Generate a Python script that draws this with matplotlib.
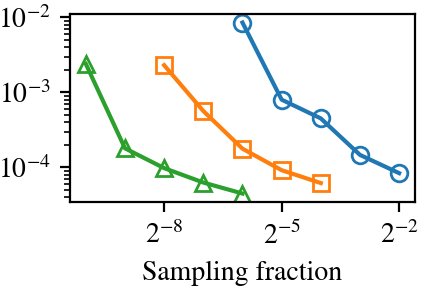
import numpy as np
import matplotlib
matplotlib.use("Agg")
import matplotlib.pyplot as plt
from matplotlib.ticker import NullLocator

plt.rcParams['font.family'] = 'serif'
plt.rcParams['font.serif'] = ['STIXGeneral', 'Liberation Serif', 'DejaVu Serif']
plt.rcParams['mathtext.fontset'] = 'stix'
plt.rcParams['font.size'] = 10

# sampling fractions as powers of two
exp_blue = [-6, -5, -4, -3, -2]
err_blue = [8.5e-3, 8.0e-4, 4.5e-4, 1.47e-4, 8.4e-5]

exp_orange = [-8, -7, -6, -5, -4]
err_orange = [2.3e-3, 5.65e-4, 1.78e-4, 9.2e-5, 6.2e-5]

exp_green = [-10, -9, -8, -7, -6]
err_green = [2.4e-3, 1.8e-4, 9.8e-5, 6.3e-5, 4.5e-5]

xticks_exp = [-8, -5, -2]

fig = plt.figure(figsize=(2.125, 1.46), dpi=200)
ax = fig.add_axes([0.165, 0.308, 0.811, 0.644])

ax.plot(2.0**np.array(exp_blue), err_blue, marker='o', color='tab:blue',
        mfc='none', ms=6, lw=1.5)
ax.plot(2.0**np.array(exp_orange), err_orange, marker='s', color='tab:orange',
        mfc='none', ms=6, lw=1.5)
ax.plot(2.0**np.array(exp_green), err_green, marker='^', color='tab:green',
        mfc='none', ms=6, lw=1.5)

ax.set_xscale('log', base=2)
ax.set_yscale('log')
ax.set_xticks([2.0**e for e in xticks_exp])
ax.xaxis.set_minor_locator(NullLocator())
ax.set_xlabel('Sampling fraction')

fig.savefig('out.png', dpi=200)
